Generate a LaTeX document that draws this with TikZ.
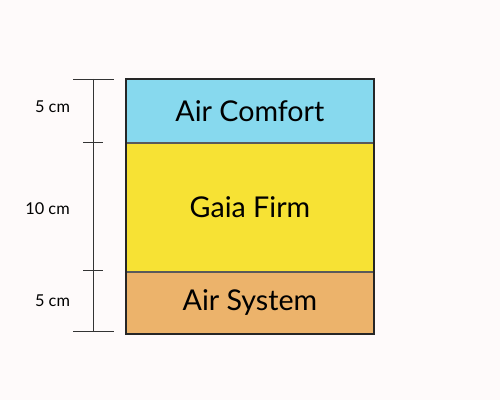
\documentclass[tikz,border=0pt]{standalone}
\usepackage{fontspec}
\setmainfont{Lato}
\usetikzlibrary{positioning}
\definecolor{bgpaper}{HTML}{FEFAFA}
\definecolor{comfortblue}{HTML}{87D9EE}
\definecolor{firmyellow}{HTML}{F7E234}
\definecolor{systemorange}{HTML}{ECB36B}
\definecolor{edgegray}{HTML}{5A5A5A}
\tikzset{
  layer/.style={draw=edgegray, line width=0.5pt, minimum width=4.94cm, inner sep=0pt, font=\fontsize{16.3}{18}\selectfont},
  tick/.style={draw=black!80, line width=0.55pt},
  dimlabel/.style={font=\fontsize{9.3}{11}\selectfont}
}
\begin{document}
\begin{tikzpicture}
  \fill[bgpaper] (0,0) rectangle (10,8);
  \useasboundingbox (0,0) rectangle (10,8);

  % Layers (top to bottom)
  \node[layer, fill=comfortblue, minimum height=1.26cm, anchor=north west] (comfort) at (2.52,6.42) {Air Comfort};
  \node[layer, fill=firmyellow, minimum height=2.56cm, below=0pt of comfort] (firm) {Gaia Firm};
  \node[layer, fill=systemorange, minimum height=1.22cm, below=0pt of firm] (system) {Air System};
  \draw[line width=1.1pt, black!85] (comfort.north west) rectangle (system.south east); % Outer frame

  % Ruler
  \coordinate (rtop) at (1.86,6.42);
  \coordinate (rmidA) at (1.86,5.16);
  \coordinate (rmidB) at (1.86,2.60);
  \coordinate (rbot) at (1.86,1.38);
  \draw[tick] (rtop) -- (rbot);
  \foreach \C in {rtop,rbot} {
    \draw[tick] ([xshift=-0.4cm]\C) -- ([xshift=0.42cm]\C); % Long ticks
  }
  \foreach \C in {rmidA,rmidB} {
    \draw[tick] ([xshift=-0.2cm]\C) -- ([xshift=0.2cm]\C); % Short ticks
  }

  % Thickness labels
  \node[dimlabel] (dimA) at (1.05,5.86) {5 cm};
  \node[dimlabel] (dimB) at (0.95,3.82) {10 cm};
  \node[dimlabel] (dimC) at (1.05,1.98) {5 cm};
\end{tikzpicture}
\end{document}
